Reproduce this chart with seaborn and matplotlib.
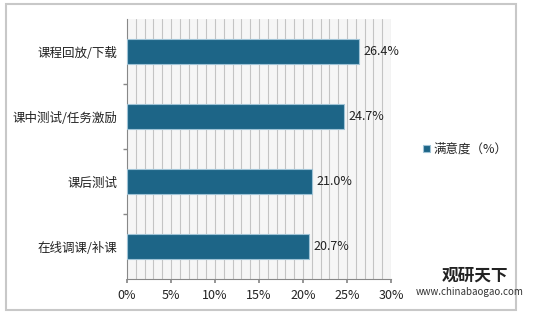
import matplotlib
matplotlib.use("Agg")
import matplotlib.pyplot as plt
import seaborn as sns
import pandas as pd
from matplotlib.patches import Rectangle

categories = ["课程回放/下载", "课中测试/任务激励", "课后测试", "在线调课/补课"]
values = [26.4, 24.7, 21.0, 20.7]
series_name = "满意度（%）"
xticks = [0, 5, 10, 15, 20, 25, 30]
xtick_labels = ["0%", "5%", "10%", "15%", "20%", "25%", "30%"]

sns.set_theme(style="white")
plt.rcParams['font.family'] = ['Noto Sans CJK SC', 'DejaVu Sans']

df = pd.DataFrame({"cat": categories, "val": values, "series": series_name})

fig = plt.figure(figsize=(5.35, 3.17), dpi=100)
fig.patch.set_facecolor("white")
fig.patches.append(Rectangle((6/535, 1-310/317), 510/535, 306/317, transform=fig.transFigure,
                             facecolor="none", edgecolor="#c8c8c8", linewidth=1.5, zorder=-5))

ax = fig.add_axes([127/535, 1-279/317, 264/535, 260/317])
ax.set_zorder(2)
ax.set_facecolor("#f6f6f6")
color = "#1d6587"
sns.barplot(data=df, y="cat", x="val", hue="series", orient="h", ax=ax,
            palette=[color], saturation=1, width=0.385, edgecolor="#9fc3d6", linewidth=0.8,
            legend=True, zorder=3)

ax.set_xlim(0, 30)
ax.set_ylim(3.5, -0.5)
for g in range(1, 31):
    ax.axvline(g, color="#c4c4c4", linewidth=0.8, zorder=1)

fs = 9
ax.set_xticks(xticks)
ax.set_xticklabels(xtick_labels, fontsize=fs, color="#222222")
ax.tick_params(axis="y", labelsize=fs, colors="#222222", length=0, pad=7)
ax.tick_params(axis="x", length=3, color="#888888", bottom=True, pad=4)
ax.set_yticks([0.5, 1.5, 2.5], minor=True)
ax.tick_params(axis="y", which="minor", left=True, length=3, color="#888888")
ax.set_xlabel("")
ax.set_ylabel("")
for s in ["top", "right"]:
    ax.spines[s].set_visible(False)
for s in ["left", "bottom"]:
    ax.spines[s].set_color("#888888")
    ax.spines[s].set_linewidth(0.8)

for i, v in enumerate(values):
    ax.text(v + 0.5, i, f"{v:.1f}%", va="center", ha="left", fontsize=fs, color="#222222", zorder=4)

leg = ax.legend(loc="center left", bbox_to_anchor=(1.08, 0.5), frameon=False,
                fontsize=fs, handlelength=0.5, handleheight=0.5, handletextpad=0.3)

fig.text(475/535, 1-276/317, "观研天下", fontsize=12, fontweight="bold", color="#222222", ha="center", va="center")
fig.text(470/535, 1-292/317, "www.chinabaogao.com", fontsize=7, color="#333333", ha="center", va="center")

fig.savefig("out.png", dpi=100)
